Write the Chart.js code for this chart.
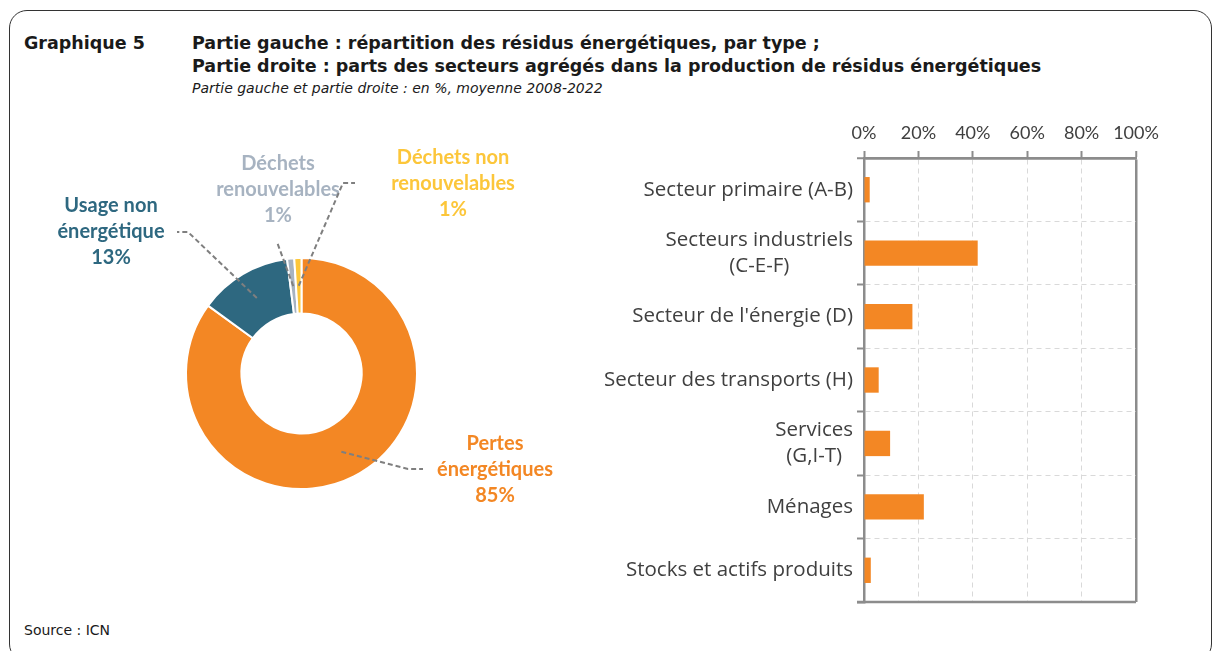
<!DOCTYPE html>
<html lang="fr">
<head>
<meta charset="utf-8">
<title>Graphique 5</title>
<script src="https://cdn.jsdelivr.net/npm/chart.js@4.4.1/dist/chart.umd.min.js"></script>
<style>
  html, body { margin: 0; padding: 0; background: #fff; width: 1214px; height: 651px; overflow: hidden; }
  #cadre { position: absolute; left: 9px; top: 10px; width: 1201px; height: 650px; border: 1.5px solid #333; border-radius: 18px; }
  .txt { position: absolute; white-space: nowrap; color: #1a1a1a; font-family: "DejaVu Sans"; }
  .gras { font-weight: bold; font-size: 17.5px; line-height: 22px; }
  #sousTitre { font-style: italic; font-size: 14px; line-height: 18px; }
  #source { font-size: 14px; line-height: 18px; }
  #donut { position: absolute; left: 20px; top: 130px; }
  #barres { position: absolute; left: 590px; top: 110px; }
</style>
</head>
<body>
<div id="cadre"></div>
<div class="txt gras" style="left:24px; top:32px;">Graphique 5</div>
<div class="txt gras" style="left:192px; top:32px;">Partie gauche : répartition des résidus énergétiques, par type ;</div>
<div class="txt gras" style="left:192px; top:55px;">Partie droite : parts des secteurs agrégés dans la production de résidus énergétiques</div>
<div class="txt" id="sousTitre" style="left:192px; top:79px;">Partie gauche et partie droite : en %, moyenne 2008-2022</div>
<div class="txt" id="source" style="left:24px; top:621px;">Source : ICN</div>

<canvas id="donut" width="570" height="400"></canvas>
<canvas id="barres" width="580" height="510"></canvas>

<script>
// données - partie gauche (type de résidus)
const typesResidus = [["Pertes", "énergétiques"], ["Usage non", "énergétique"], ["Déchets", "renouvelables"], ["Déchets non", "renouvelables"]];
const partsResidus = [85, 13, 1, 1];
const couleursResidus = ["#F38724", "#2E6880", "#A7B3C1", "#FCC63A"];

// données - partie droite (secteurs)
const secteurs = [
  ["Secteur primaire (A-B)"],
  ["Secteurs industriels", "(C-E-F)"],
  ["Secteur de l'énergie (D)"],
  ["Secteur des transports (H)"],
  ["Services", "(G,I-T)"],
  ["Ménages"],
  ["Stocks et actifs produits"]
];
const partsSecteurs = [2.1, 41.8, 17.8, 5.4, 9.6, 22.0, 2.5];
const ticksPct = [0, 20, 40, 60, 80, 100];

const gris = "#8C8C8C";
const grisGrille = "#D9D9D9";
const texteAxe = "#404040";

// position des étiquettes du donut (coude du trait, fin du trait, centre du texte) - en px du canvas
const etiquettesDonut = [
  { coude: [388, 339], fin: [403, 339], texte: [475, 314] },
  { coude: [168, 102], fin: [157, 102], texte: [91, 76] },
  { coude: [257, 112], fin: [257, 112], texte: [258, 34] },
  { coude: [323, 53], fin: [335, 53], texte: [433, 28] }
];

const pluginEtiquettes = {
  id: "etiquettes",
  afterDraw(chart) {
    const ctx = chart.ctx;
    const arcs = chart.getDatasetMeta(0).data;
    arcs.forEach((arc, i) => {
      const p = arc.getProps(["x", "y", "startAngle", "endAngle", "innerRadius", "outerRadius"], true);
      const a = (p.startAngle + p.endAngle) / 2;
      const r = (p.innerRadius + p.outerRadius) / 2;
      const e = etiquettesDonut[i];
      ctx.save();
      ctx.strokeStyle = "#7F7F7F";
      ctx.lineWidth = 2;
      ctx.setLineDash([5, 3]);
      ctx.beginPath();
      ctx.moveTo(p.x + Math.cos(a) * r, p.y + Math.sin(a) * r);
      ctx.lineTo(e.coude[0], e.coude[1]);
      ctx.lineTo(e.fin[0], e.fin[1]);
      ctx.stroke();
      ctx.restore();

      const lignes = typesResidus[i].concat([Math.round(partsResidus[i]) + "%"]);
      ctx.save();
      ctx.fillStyle = couleursResidus[i];
      ctx.font = "bold 20px Lato";
      ctx.textAlign = "center";
      ctx.textBaseline = "middle";
      lignes.forEach((l, k) => ctx.fillText(l, e.texte[0], e.texte[1] + k * 26));
      ctx.restore();
    });
  }
};

new Chart(document.getElementById("donut"), {
  type: "doughnut",
  data: {
    labels: typesResidus.map(t => t.join(" ")),
    datasets: [{
      data: partsResidus,
      backgroundColor: couleursResidus,
      borderColor: "#fff",
      borderWidth: 2
    }]
  },
  options: {
    responsive: false,
    animation: false,
    cutout: "52%",
    layout: { padding: { left: 165, right: 172, top: 127, bottom: 40 } },
    plugins: { legend: { display: false }, tooltip: { enabled: false } }
  },
  plugins: [pluginEtiquettes]
});

// étiquettes des secteurs (lignes centrées entre elles, bloc aligné à droite)
const pluginSecteurs = {
  id: "secteurs",
  afterDraw(chart) {
    const ctx = chart.ctx;
    const echelle = chart.scales.y;
    const droite = chart.chartArea.left - 11;
    ctx.save();
    ctx.font = "20.5px 'Open Sans'";
    ctx.fillStyle = texteAxe;
    ctx.textAlign = "center";
    ctx.textBaseline = "middle";
    secteurs.forEach((lignes, i) => {
      const y = echelle.getPixelForTick(i);
      const larg = Math.max(...lignes.map(l => ctx.measureText(l).width));
      const x = droite - larg / 2;
      lignes.forEach((l, k) => ctx.fillText(l, x, y + (k - (lignes.length - 1) / 2) * 26));
    });
    // cadre bas
    ctx.strokeStyle = gris;
    ctx.lineWidth = 2.5;
    ctx.beginPath();
    ctx.moveTo(chart.chartArea.left - 7, chart.chartArea.bottom);
    ctx.lineTo(chart.chartArea.right, chart.chartArea.bottom);
    ctx.stroke();
    ctx.restore();
  }
};

const bord = c => c.index === 0 || c.index === secteurs.length;

new Chart(document.getElementById("barres"), {
  type: "bar",
  data: {
    labels: secteurs.map(s => s.join(" ")),
    datasets: [{
      data: partsSecteurs,
      backgroundColor: "#F38724",
      barPercentage: 0.4,
      categoryPercentage: 1
    }]
  },
  options: {
    indexAxis: "y",
    responsive: false,
    animation: false,
    layout: { padding: { left: 0, right: 34, top: 0, bottom: 18 } },
    plugins: { legend: { display: false }, tooltip: { enabled: false } },
    scales: {
      x: {
        position: "top",
        min: 0,
        max: 100,
        afterBuildTicks: s => { s.ticks = ticksPct.map(v => ({ value: v })); },
        afterFit: s => { s.height = 48; },
        ticks: { callback: v => v + "%", color: texteAxe, font: { family: "Lato", size: 18 }, padding: 7, maxRotation: 0 },
        grid: {
          color: c => (c.tick && c.tick.value === 100 ? gris : grisGrille),
          lineWidth: c => (c.tick && c.tick.value === 100 ? 2.5 : 1),
          tickColor: gris,
          tickWidth: 2,
          tickLength: 7
        },
        border: { color: gris, width: 2.5, dash: c => (c.tick && c.tick.value === 100 ? [] : [5, 4]) }
      },
      y: {
        afterFit: s => { s.width = 274; },
        ticks: { display: false },
        grid: {
          color: c => (bord(c) ? gris : grisGrille),
          lineWidth: c => (bord(c) ? 2.5 : 1),
          tickColor: gris,
          tickWidth: 2,
          tickLength: 7
        },
        border: { color: gris, width: 2.5, dash: c => (bord(c) ? [] : [5, 4]) }
      }
    }
  },
  plugins: [pluginSecteurs]
});
</script>
</body>
</html>
